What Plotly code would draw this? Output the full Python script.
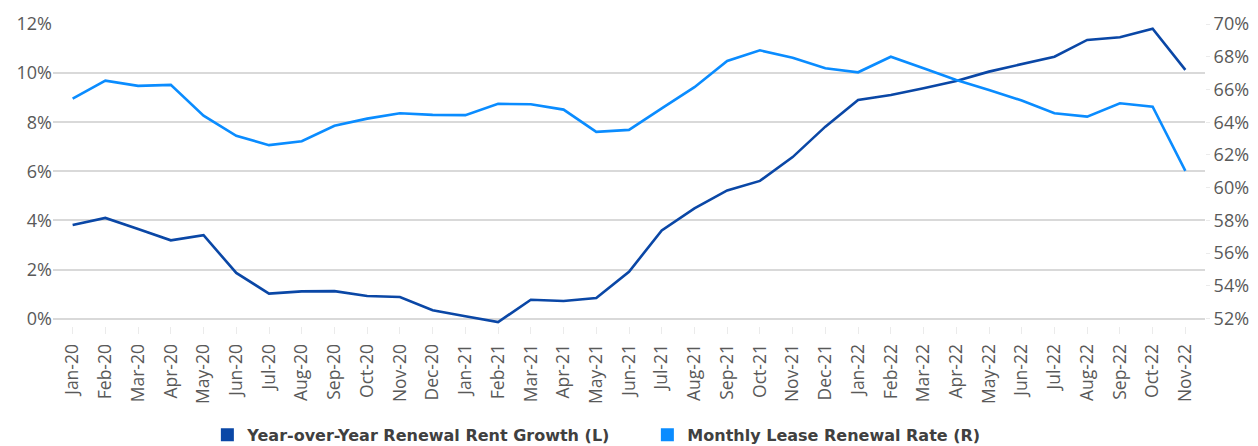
import plotly.graph_objects as go

months = ["Jan-20","Feb-20","Mar-20","Apr-20","May-20","Jun-20","Jul-20","Aug-20","Sep-20","Oct-20","Nov-20","Dec-20",
          "Jan-21","Feb-21","Mar-21","Apr-21","May-21","Jun-21","Jul-21","Aug-21","Sep-21","Oct-21","Nov-21","Dec-21",
          "Jan-22","Feb-22","Mar-22","Apr-22","May-22","Jun-22","Jul-22","Aug-22","Sep-22","Oct-22","Nov-22"]

rent_growth = [3.81, 4.10, 3.65, 3.19, 3.40, 1.86, 1.02, 1.11, 1.12, 0.92, 0.88, 0.34,
               0.10, -0.14, 0.77, 0.72, 0.84, 1.91, 3.59, 4.49, 5.22, 5.61, 6.58, 7.82,
               8.91, 9.11, 9.38, 9.68, 10.06, 10.37, 10.67, 11.35, 11.46, 11.81, 10.13]

renewal_rate = [65.44, 66.54, 66.22, 66.28, 64.40, 63.17, 62.60, 62.84, 63.78, 64.22, 64.55, 64.45,
                64.43, 65.12, 65.10, 64.77, 63.41, 63.53, 64.85, 66.14, 67.74, 68.39, 67.94, 67.30,
                67.05, 68.00, 67.30, 66.58, 65.97, 65.32, 64.55, 64.34, 65.16, 64.95, 61.03]

left_ticks = [0, 2, 4, 6, 8, 10, 12]
right_ticks = [52, 54, 56, 58, 60, 62, 64, 66, 68, 70]

DARK = "#0A47A6"
LIGHT = "#0A8CFF"
GRAY = "#595959"
FONT = "Open Sans"

# small extension below 0 so the Feb-21 dip (slightly negative) is not clipped
PAD = 0.3
left_range = [0 - PAD, 12]
right_range = [52 - PAD * 1.5, 70]

fig = go.Figure()
fig.add_trace(go.Scatter(x=months, y=rent_growth, mode="lines", line=dict(color=DARK, width=2.6),
                         showlegend=False, yaxis="y"))
fig.add_trace(go.Scatter(x=months, y=renewal_rate, mode="lines", line=dict(color=LIGHT, width=2.6),
                         showlegend=False, yaxis="y2"))
# legend entries with square swatches
fig.add_trace(go.Scatter(x=[None], y=[None], mode="markers", name="Year-over-Year Renewal Rent Growth (L)",
                         marker=dict(symbol="square", size=13, color=DARK)))
fig.add_trace(go.Scatter(x=[None], y=[None], mode="markers", name="Monthly Lease Renewal Rate (R)",
                         marker=dict(symbol="square", size=13, color=LIGHT)))

fig.update_layout(
    width=1258, height=446,
    margin=dict(l=53, r=53, t=24, b=120),
    plot_bgcolor="white", paper_bgcolor="white",
    font=dict(family=FONT, color=GRAY, size=16),
    xaxis=dict(type="category", range=[-0.6, 34.6], tickangle=-90, showgrid=False, zeroline=False,
               showline=False, ticks="outside", ticklen=7, tickcolor="#EBEBEB",
               ticklabelstandoff=3, automargin=False,
               tickfont=dict(size=17.5, color=GRAY, family=FONT)),
    yaxis=dict(range=left_range, tickvals=left_ticks, ticktext=[f"{v}%" for v in left_ticks],
               showgrid=True, gridcolor="#D9D9D9", gridwidth=1.5, zeroline=False, showline=False,
               tickfont=dict(size=18, color=GRAY, family=FONT), ticks="", automargin=False),
    yaxis2=dict(range=right_range, tickvals=right_ticks, ticktext=[f"{v}%" for v in right_ticks],
                overlaying="y", side="right", showgrid=False, zeroline=False, showline=False,
                tickfont=dict(size=18, color=GRAY, family=FONT), ticks="outside", ticklen=4,
                tickcolor="#EBEBEB", automargin=False),
    legend=dict(orientation="h", x=0.134, xanchor="left", xref="paper",
                y=0.025, yanchor="middle", yref="container",
                font=dict(family="DejaVu Sans", size=16, color="#404040", weight="bold"),
                itemwidth=30, tracegroupgap=0, entrywidth=395, entrywidthmode="pixels"),
)

fig.write_html("out.html")
